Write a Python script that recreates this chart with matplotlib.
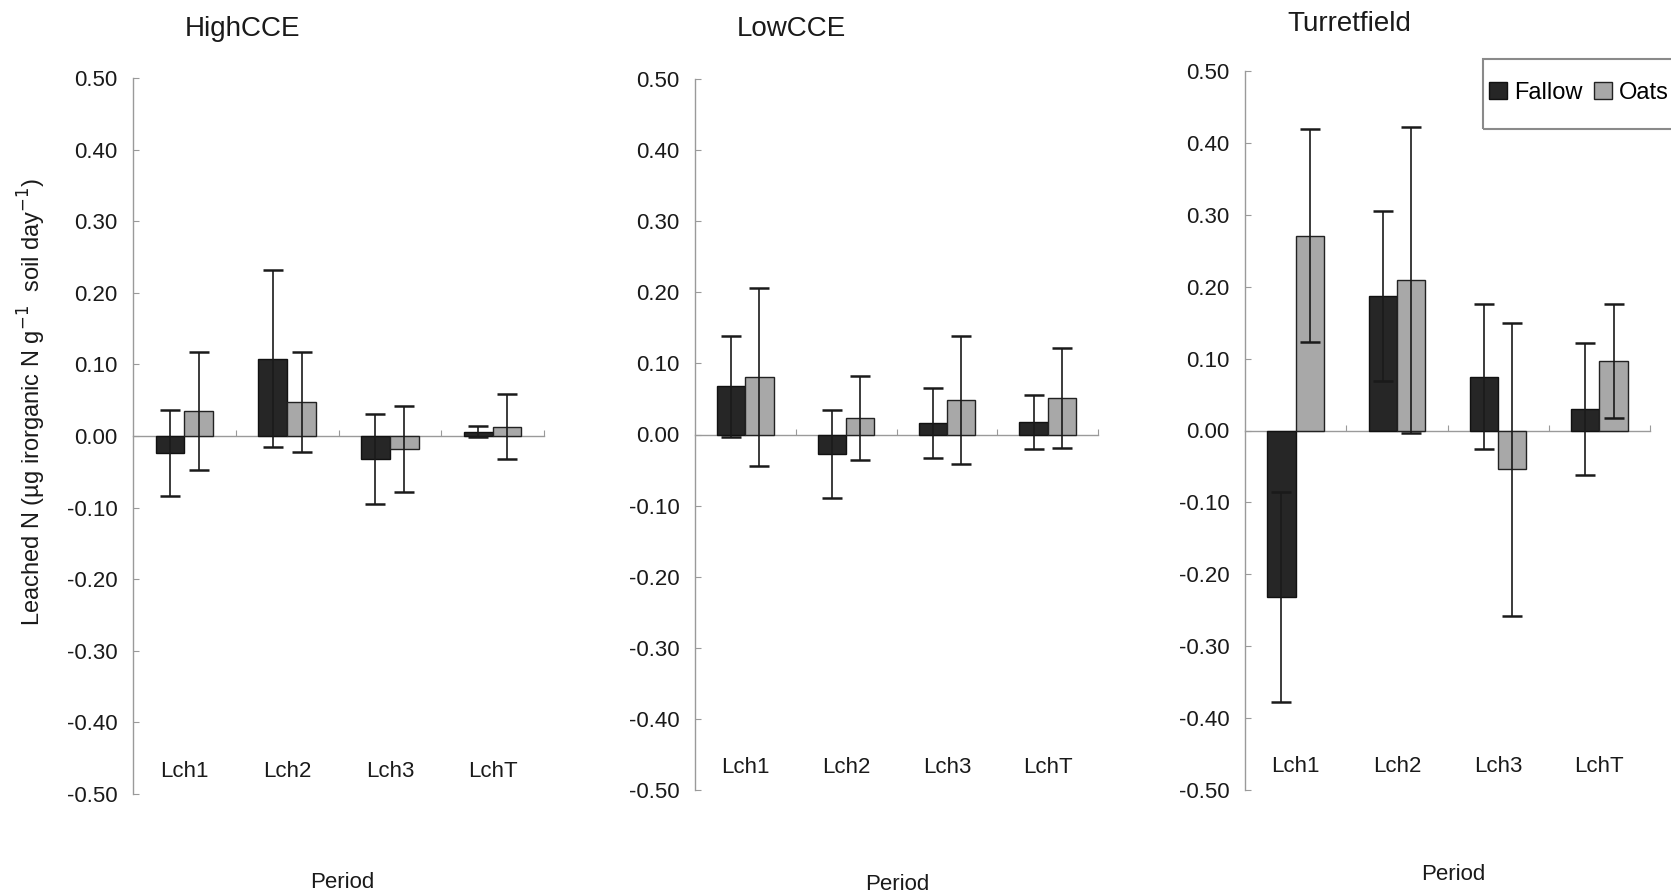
import matplotlib
matplotlib.use('Agg')
import matplotlib.pyplot as plt
import matplotlib.patches as patches
import numpy as np

plt.rcParams['font.family'] = ['Liberation Sans', 'DejaVu Sans']
plt.rcParams['axes.unicode_minus'] = False

periods = ['Lch1', 'Lch2', 'Lch3', 'LchT']
sites = ['HighCCE', 'LowCCE', 'Turretfield']
yticks = [-0.5, -0.4, -0.3, -0.2, -0.1, 0.0, 0.1, 0.2, 0.3, 0.4, 0.5]

# mean leached N and error for each site
high_fallow = [-0.024, 0.108, -0.032, 0.006]
high_fallow_err = [0.060, 0.124, 0.063, 0.008]
high_oats = [0.035, 0.048, -0.018, 0.013]
high_oats_err = [0.082, 0.070, 0.060, 0.045]

low_fallow = [0.068, -0.027, 0.016, 0.018]
low_fallow_err = [0.071, 0.062, 0.049, 0.038]
low_oats = [0.081, 0.023, 0.048, 0.051]
low_oats_err = [0.125, 0.059, 0.090, 0.070]

turret_fallow = [-0.231, 0.187, 0.075, 0.030]
turret_fallow_err = [0.146, 0.118, 0.101, 0.092]
turret_oats = [0.271, 0.209, -0.054, 0.097]
turret_oats_err = [0.148, 0.213, 0.204, 0.079]

fallow = [high_fallow, low_fallow, turret_fallow]
fallow_err = [high_fallow_err, low_fallow_err, turret_fallow_err]
oats = [high_oats, low_oats, turret_oats]
oats_err = [high_oats_err, low_oats_err, turret_oats_err]

W, H = 1671, 894
fig = plt.figure(figsize=(W / 100, H / 100), dpi=100)

# axes boxes in pixels: left, top, right, bottom
boxes = [(133, 78, 544, 794), (695, 79, 1098, 790), (1245, 71, 1650, 790)]
title_pos = [(243, 29), (791, 29), (1349, 24)]
period_pos = [(342, 883), (897, 884), (1453, 874)]

col_fallow = '#262626'
col_oats = '#a8a8a8'
bw = 0.28
x = np.arange(1, len(periods) + 1)

axes = []
for i, (l, t, r, b) in enumerate(boxes):
    ax = fig.add_axes([l / W, 1 - b / H, (r - l) / W, (b - t) / H])
    axes.append(ax)

    ax.bar(x - bw / 2, fallow[i], bw, color=col_fallow, edgecolor='#111111',
           linewidth=1, label='Fallow', zorder=2)
    ax.bar(x + bw / 2, oats[i], bw, color=col_oats, edgecolor='#222222',
           linewidth=1, label='Oats', zorder=2)
    ax.errorbar(x - bw / 2, fallow[i], yerr=fallow_err[i], fmt='none',
                ecolor='#1a1a1a', elinewidth=1.2, capsize=7, capthick=1.8, zorder=3)
    ax.errorbar(x + bw / 2, oats[i], yerr=oats_err[i], fmt='none',
                ecolor='#1a1a1a', elinewidth=1.2, capsize=7, capthick=1.8, zorder=3)

    ax.set_xlim(0.5, 4.5)
    ax.set_ylim(-0.5, 0.5)
    ax.set_yticks(yticks)
    ax.set_yticklabels(['%.2f' % v for v in yticks])
    ax.set_xticks(x + 0.5)
    ax.set_xticklabels([])

    ax.spines['top'].set_visible(False)
    ax.spines['right'].set_visible(False)
    ax.spines['bottom'].set_position(('data', 0))
    for s in ['left', 'bottom']:
        ax.spines[s].set_color('#9a9a9a')
        ax.spines[s].set_linewidth(1)
        ax.spines[s].set_zorder(1)
    ax.tick_params(axis='y', direction='in', length=4, color='#9a9a9a',
                   labelsize=16, pad=11, labelcolor='#1a1a1a')
    ax.tick_params(axis='x', direction='in', length=4, color='#9a9a9a')

    for xi, p in zip(x, periods):
        ax.text(xi, -0.468, p, ha='center', va='center', fontsize=16, color='#1a1a1a')

    fig.text(title_pos[i][0] / W, 1 - title_pos[i][1] / H, sites[i],
             ha='center', va='center', fontsize=20, color='#1a1a1a')
    fig.text(period_pos[i][0] / W, 1 - period_pos[i][1] / H, 'Period',
             ha='center', va='center', fontsize=16, color='#1a1a1a')

fig.text(32 / W, 1 - 402 / H,
         'Leached N (µg irorganic N g$^{-1}$  soil day$^{-1}$)',
         rotation=90, ha='center', va='center', fontsize=17, color='#1a1a1a')

# legend with its own frame (box runs off the right edge)
fig.add_artist(patches.Rectangle((1483 / W, 1 - 129 / H), 200 / W, 70 / H,
                                 transform=fig.transFigure, fill=False,
                                 edgecolor='#8a8a8a', linewidth=1.5))
handles, labels = axes[2].get_legend_handles_labels()
fig.legend(handles, labels, loc='center left',
           bbox_to_anchor=(1489 / W, 1 - 93 / H), ncol=2, frameon=False,
           fontsize=17, handlelength=0.75, handleheight=0.75,
           handletextpad=0.3, columnspacing=0.5, borderpad=0, borderaxespad=0)

fig.savefig('out.png', dpi=100)
